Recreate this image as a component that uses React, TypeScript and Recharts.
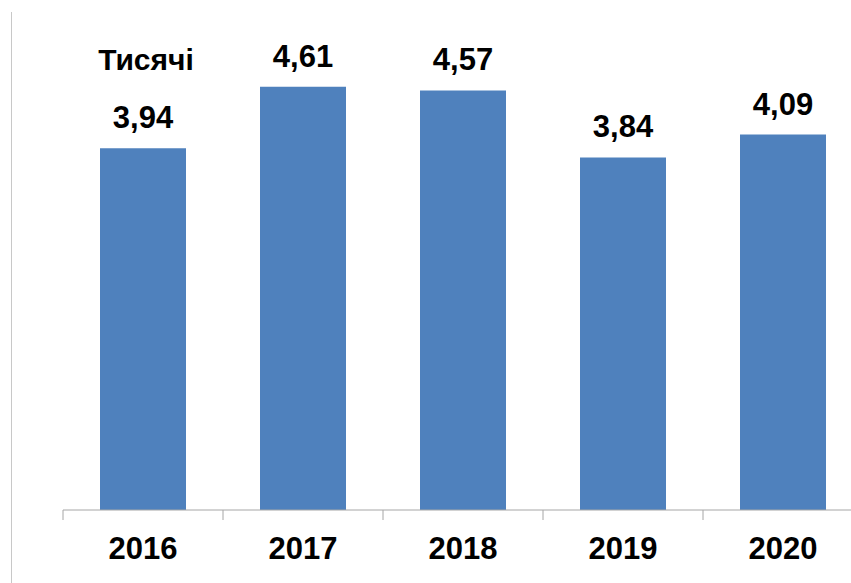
import { BarChart, Bar, XAxis, YAxis, LabelList } from 'recharts';

const years = ['2016', '2017', '2018', '2019', '2020'];
const values = [3.94, 4.61, 4.57, 3.84, 4.09];
const unitLabel = 'Тисячі';

const data = years.map((year, i) => ({ year, value: values[i] }));

const FONT = '"Liberation Sans", Arial, sans-serif';
const fmt = (v: number) => v.toFixed(2).replace('.', ',');

function YearTick(props: any) {
  const { x, y, payload, width, visibleTicksCount } = props;
  const half = width / (visibleTicksCount || years.length) / 2;
  return (
    <g>
      <line x1={x - half} y1={y} x2={x - half} y2={y + 10} stroke="#a6a6a6" strokeWidth={1} />
      <text x={x} y={y + 49} textAnchor="middle" fontFamily={FONT} fontWeight="bold" fontSize={31} fill="#000">
        {payload.value}
      </text>
    </g>
  );
}

function UnitLabel(props: any) {
  const { x, y, width, index } = props;
  if (index !== 0) return null;
  return (
    <text x={x + width / 2 + 3} y={y - 78} textAnchor="middle" fontFamily={FONT} fontWeight="bold" fontSize={30} fill="#000">
      {unitLabel}
    </text>
  );
}

export default function App() {
  return (
    <div style={{ position: 'absolute', left: 0, top: 0, width: 851, height: 583, overflow: 'hidden', background: '#fff' }}>
      <div style={{ position: 'absolute', left: 11, top: 12, width: 1, height: 571, background: '#c8c8c8' }} />
      <BarChart width={880} height={583} data={data} margin={{ top: 51, right: 17, left: 63, bottom: 0 }}>
        <XAxis
          dataKey="year"
          axisLine={{ stroke: '#a6a6a6' }}
          tickLine={false}
          tickSize={0}
          tickMargin={0}
          tick={<YearTick />}
          interval={0}
          height={73}
        />
        <YAxis hide domain={[0, 5]} />
        <Bar dataKey="value" fill="#4f81bd" barSize={86} isAnimationActive={false}>
          <LabelList
            dataKey="value"
            position="top"
            offset={20}
            formatter={(v: any) => fmt(Number(v))}
            style={{ fontFamily: FONT, fontWeight: 'bold', fontSize: 31, fill: '#000' }}
          />
          <LabelList dataKey="value" content={<UnitLabel />} />
        </Bar>
      </BarChart>
    </div>
  );
}
